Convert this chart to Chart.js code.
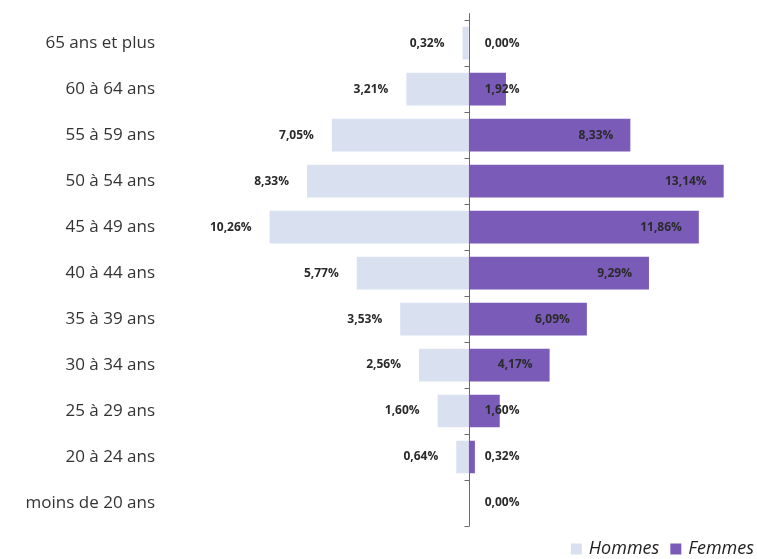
<!DOCTYPE html>
<html lang="fr">
<head>
<meta charset="utf-8">
<script src="https://cdn.jsdelivr.net/npm/chart.js@4/dist/chart.umd.min.js"></script>
<style>
    html, body { margin: 0; padding: 0; background: #fff; }
    #wrap { width: 757px; height: 559px; position: relative; }
</style>
</head>
<body>
<div id="wrap"><canvas id="pyramid"></canvas></div>
<script>
// Age groups, top to bottom
const ageGroups = [
    '65 ans et plus', '60 à 64 ans', '55 à 59 ans', '50 à 54 ans', '45 à 49 ans',
    '40 à 44 ans', '35 à 39 ans', '30 à 34 ans', '25 à 29 ans', '20 à 24 ans',
    'moins de 20 ans'
];

// Share of staff per age group (%)
const hommes = [0.32, 3.21, 7.05, 8.33, 10.26, 5.77, 3.53, 2.56, 1.60, 0.64, null];
const femmes = [0.00, 1.92, 8.33, 13.14, 11.86, 9.29, 6.09, 4.17, 1.60, 0.32, 0.00];

const colors = {
    hommes: '#d9e1f1',
    femmes: '#7a5bb8',
    text: '#333333',
    axis: '#6b6b6b'
};

const fmtPct = v => v.toFixed(2).replace('.', ',') + '%';

// Vertical zero line with small ticks between the age groups
const centerAxis = {
    id: 'centerAxis',
    afterDatasetsDraw(chart) {
        const { ctx, chartArea, scales: { x } } = chart;
        const x0 = Math.round(x.getPixelForValue(0)) + 0.5;
        const band = (chartArea.bottom - chartArea.top) / ageGroups.length;
        ctx.save();
        ctx.strokeStyle = colors.axis;
        ctx.lineWidth = 1;
        ctx.beginPath();
        ctx.moveTo(x0, chartArea.top - 7);
        ctx.lineTo(x0, chartArea.bottom);
        for (let i = 0; i <= ageGroups.length; i++) {
            const ty = Math.round(chartArea.top + i * band) + 0.5;
            ctx.moveTo(x0 - 5, ty);
            ctx.lineTo(x0, ty);
        }
        ctx.stroke();
        ctx.restore();
    }
};

// Percent labels: outside the end for men, inside the end for women
const barLabels = {
    id: 'barLabels',
    afterDatasetsDraw(chart) {
        const { ctx, scales: { x } } = chart;
        const x0 = x.getPixelForValue(0);
        ctx.save();
        ctx.font = 'bold 12px "Open Sans"';
        ctx.fillStyle = '#2a2a2a';
        ctx.textAlign = 'right';
        ctx.textBaseline = 'middle';
        chart.data.datasets.forEach((ds, di) => {
            const src = di === 0 ? hommes : femmes;
            chart.getDatasetMeta(di).data.forEach((bar, i) => {
                const v = src[i];
                if (v == null) return;
                const txt = fmtPct(v);
                let right;
                if (di === 0) {
                    right = bar.x - 18;
                } else {
                    const w = ctx.measureText(txt).width;
                    right = Math.max(bar.x - 17, x0 + 16 + w);
                }
                ctx.fillText(txt, right, bar.y);
            });
        });
        ctx.restore();
    }
};

// Legend in the bottom right corner, built from the datasets
const cornerLegend = {
    id: 'cornerLegend',
    afterDraw(chart) {
        const { ctx } = chart;
        const box = 11, gap = 7, between = 11;
        const cy = chart.height - 10;
        ctx.save();
        ctx.font = 'italic 18px "Open Sans"';
        ctx.textBaseline = 'middle';
        ctx.textAlign = 'left';
        const items = chart.data.datasets.map(ds => ({
            text: ds.label,
            color: ds.backgroundColor,
            w: box + gap + ctx.measureText(ds.label).width
        }));
        let xPos = chart.width - 3 - items.reduce((s, it) => s + it.w, 0) - between * (items.length - 1);
        items.forEach(it => {
            ctx.fillStyle = it.color;
            ctx.fillRect(xPos, cy - box / 2, box, box);
            ctx.fillStyle = '#222';
            ctx.fillText(it.text, xPos + box + gap, cy);
            xPos += it.w + between;
        });
        ctx.restore();
    }
};

new Chart(document.getElementById('pyramid'), {
    type: 'bar',
    data: {
        labels: ageGroups,
        datasets: [
            {
                label: 'Hommes',
                data: hommes.map(v => v == null ? null : -v),
                backgroundColor: colors.hommes,
                categoryPercentage: 1,
                barPercentage: 0.71
            },
            {
                label: 'Femmes',
                data: femmes,
                backgroundColor: colors.femmes,
                categoryPercentage: 1,
                barPercentage: 0.71
            }
        ]
    },
    options: {
        indexAxis: 'y',
        responsive: true,
        maintainAspectRatio: false,
        animation: false,
        layout: { padding: { top: 20, right: 5, bottom: 33, left: 0 } },
        plugins: {
            legend: { display: false },
            tooltip: { enabled: false }
        },
        scales: {
            x: {
                display: false,
                stacked: true,
                min: -15.65,
                max: 14.6
            },
            y: {
                stacked: true,
                grid: { display: false, drawTicks: false },
                border: { display: false },
                afterFit(scale) { scale.width = 165; },
                ticks: {
                    padding: 10,
                    color: colors.text,
                    font: { family: '"Open Sans"', size: 17 }
                }
            }
        }
    },
    plugins: [centerAxis, barLabels, cornerLegend]
});
</script>
</body>
</html>
